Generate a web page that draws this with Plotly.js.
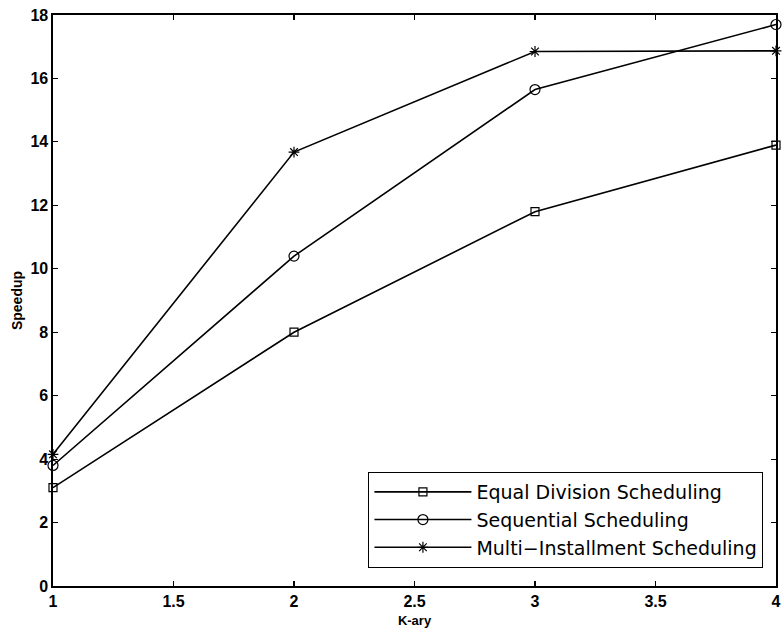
<!DOCTYPE html>
<html>
<head>
<meta charset="utf-8">
<script src="https://cdn.plot.ly/plotly-3.0.1.min.js"></script>
<style>html,body{margin:0;padding:0;background:#fff;}#chart{width:782px;height:637px;}</style>
</head>
<body>
<div id="chart"></div>
<script>
var kary = [1, 2, 3, 4];
var equalDivision = [3.1, 8.0, 11.8, 13.9];
var sequential = [3.8, 10.4, 15.65, 17.7];
var multiInstallment = [4.15, 13.68, 16.85, 16.87];
var seriesNames = ['Equal Division Scheduling', 'Sequential Scheduling', 'Multi\u2212Installment Scheduling'];
var xTicks = [1, 1.5, 2, 2.5, 3, 3.5, 4];
var yTicks = [0, 2, 4, 6, 8, 10, 12, 14, 16, 18];

function mk(y, name, sym, size) {
  return {
    x: kary, y: y, name: name, type: 'scatter', mode: 'lines+markers',
    line: {color: '#000', width: 1.6},
    marker: {symbol: sym, size: size, color: '#000', line: {color: '#000', width: 1.2}},
    cliponaxis: false
  };
}
var data = [
  mk(equalDivision, seriesNames[0], 'square-open', 8),
  mk(sequential, seriesNames[1], 'circle-open', 10),
  mk(multiInstallment, seriesNames[2], 'asterisk-open', 9)
];
var tickFont = {family: 'Liberation Sans, Arial, sans-serif', size: 16, color: '#000', weight: 'bold'};
var layout = {
  width: 782, height: 637,
  margin: {l: 53, r: 6, t: 15, b: 51},
  paper_bgcolor: '#fff', plot_bgcolor: '#fff',
  showlegend: true,
  xaxis: {
    range: [1, 4], tickvals: xTicks, ticktext: xTicks.map(String),
    ticks: 'inside', ticklen: 5, tickwidth: 1.2, tickcolor: '#000',
    showline: true, linecolor: '#000', linewidth: 1.6, mirror: 'ticks',
    showgrid: false, zeroline: false, tickfont: tickFont,
    title: {text: 'K-ary', font: {family: 'Liberation Sans, Arial, sans-serif', size: 13, color: '#000', weight: 'bold'}, standoff: 7}
  },
  yaxis: {
    range: [0, 18], tickvals: yTicks, ticktext: yTicks.map(String),
    ticks: 'inside', ticklen: 5, tickwidth: 1.2, tickcolor: '#000',
    showline: true, linecolor: '#000', linewidth: 1.6, mirror: 'ticks',
    showgrid: false, zeroline: false, tickfont: tickFont,
    title: {text: 'Speedup', font: {family: 'Liberation Sans, Arial, sans-serif', size: 14, color: '#000', weight: 'bold'}, standoff: 4}
  },
  legend: {
    x: 0.436, y: 0.2, xanchor: 'left', yanchor: 'top',
    bgcolor: '#fff', bordercolor: '#000', borderwidth: 1.2,
    font: {family: 'DejaVu Sans, sans-serif', size: 19, color: '#000'},
    itemwidth: 97, tracegroupgap: 0
  }
};
Plotly.newPlot('chart', data, layout, {displayModeBar: false, staticPlot: true});
</script>
</body>
</html>
